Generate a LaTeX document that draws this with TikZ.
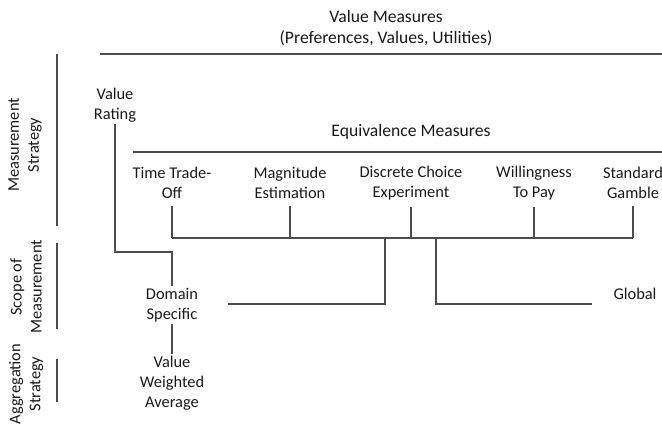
\documentclass[tikz,border=0pt]{standalone}
\usepackage{fontspec}
\setmainfont{Carlito}
\usetikzlibrary{positioning}
\tikzset{
	lbl/.style={align=center, font=\fontsize{16.4}{20}\selectfont, inner sep=2pt, text=black!90},
	head/.style={lbl, font=\fontsize{17.6}{20.5}\selectfont},
	side/.style={lbl, rotate=90},
	rule/.style={draw=black!70, line width=1.1pt},
}

\begin{document}
\begin{tikzpicture}[x=1pt, y=-1pt]
		
		% ---------------------
		% Proper size --- Bounding box
		\useasboundingbox (0,0) rectangle (662,425);
		
		% ---------------------
		% Headings & side labels
		\node[head] (ValueMeasures) at (386,28) {Value Measures\\(Preferences, Values, Utilities)};
		\node[head] (EquivMeasures) at (411,132) {Equivalence Measures};
		
		\node[side] (MeasStrategy) at (25,145) {Measurement\\Strategy};
		\node[side] (ScopeMeas) at (26,287) {Scope of\\Measurement};
		\node[side] (AggStrategy) at (26,384) {Aggregation\\Strategy};
		
		% ---------------------
		% Rules
		\coordinate (TopL) at (100,54);
		\coordinate (TopR) at (662,54);
		\coordinate (EquivL) at (133,152);
		\coordinate (EquivR) at (662,152);
		
		\coordinate (SideA1) at (57,54);
		\coordinate (SideA2) at (57,226);
		\coordinate (SideB1) at (57,243);
		\coordinate (SideB2) at (57,329);
		\coordinate (SideC1) at (57,359);
		\coordinate (SideC2) at (57,402);
		
		% ---------------------
		% Methods
		\node[lbl] (ValueRating) at (115,105) {Value\\Rating};
		
		\node[lbl] (TimeTradeOff) at (172,183) {Time Trade-\\Off};
		\node[lbl] (Magnitude) at (290,183) {Magnitude\\Estimation};
		\node[lbl] (DiscreteChoice) at (411,183) {Discrete Choice\\Experiment};
		\node[lbl] (Willingness) at (534,183) {Willingness\\To Pay};
		\node[lbl] (StandardGamble) at (633,183) {Standard\\Gamble};
		
		\node[lbl] (Domain) at (172,305) {Domain\\Specific};
		\node[lbl] (Global) at (635,294) {Global};
		\node[lbl] (ValueWeighted) at (172,383) {Value\\Weighted\\Average};
		
		% ---------------------
		% Bracket & branch points
		\coordinate (Bracket) at (0,238);
		\coordinate (Elbow) at (0,252);
		\coordinate (ScopeL) at (385,238);
		\coordinate (ScopeR) at (436,238);
		\coordinate (DomainEnd) at (228,304);
		\coordinate (GlobalEnd) at (592,304);
		
		% ---------------------
		\draw[rule] (TopL) -- (TopR);
		\draw[rule] (EquivL) -- (EquivR);
		\draw[rule] (SideA1) -- (SideA2);
		\draw[rule] (SideB1) -- (SideB2);
		\draw[rule] (SideC1) -- (SideC2);
		
		\foreach \item in {TimeTradeOff, Magnitude, DiscreteChoice, Willingness, StandardGamble}
		\draw[rule, shorten <=5pt] (\item.south) -- (\item.south |- Bracket);
		\draw[rule] (TimeTradeOff.south |- Bracket) -- (StandardGamble.south |- Bracket);
		
		\draw[rule] (ValueRating.south) |- (Domain.north |- Elbow) -- (Domain.north);
		\draw[rule] (ScopeL) |- (DomainEnd);
		\draw[rule] (ScopeR) |- (GlobalEnd);
		\draw[rule] (Domain.south) -- (ValueWeighted.north);
		
\end{tikzpicture}
\end{document}
